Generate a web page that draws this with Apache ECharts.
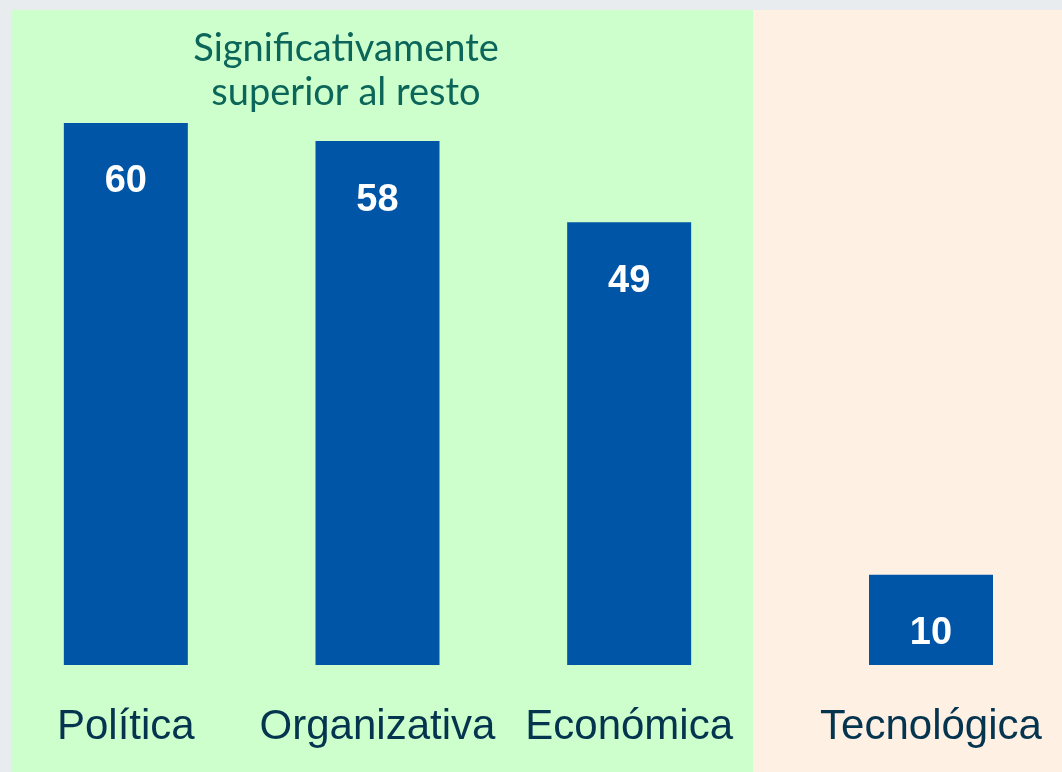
<!DOCTYPE html>
<html>
<head>
<meta charset="utf-8">
<script src="https://cdn.jsdelivr.net/npm/echarts@6/dist/echarts.min.js"></script>
<style>
  html, body { margin: 0; padding: 0; background: #e8ecee; }
  #main { width: 1062px; height: 772px; }
</style>
</head>
<body>
<div id="main"></div>
<script>
// categorias dentro de la zona verde (significativamente superior)
var catTop = ['Política', 'Organizativa', 'Económica'];
var valTop = [60, 58, 49];
// zona naranja
var catRest = ['Tecnológica'];
var valRest = [10];
var notaTexto = 'Significativamente\nsuperior al resto';

var chart = echarts.init(document.getElementById('main'));

var labelCat = {
	interval: 0,
	color: '#05344f',
	fontFamily: '"Liberation Sans", Arial, sans-serif',
	fontSize: 42,
	margin: 41
};
var barLabel = {
	show: true,
	position: 'insideTop',
	distance: 40,
	color: '#ffffff',
	fontFamily: '"Liberation Sans", Arial, sans-serif',
	fontWeight: 'bold',
	fontSize: 38
};

var option = {
	backgroundColor: '#e8ecee',
	animation: false,
	graphic: [
		{ type: 'rect', z: -10, shape: { x: 12, y: 10, width: 741, height: 762 }, style: { fill: '#ccffcc' } },
		{ type: 'rect', z: -10, shape: { x: 753, y: 10, width: 309, height: 762 }, style: { fill: '#fff0e4' } },
		{
			type: 'text', x: 346, y: 27, z: 10,
			style: {
				text: notaTexto,
				align: 'center',
				fill: '#0b6659',
				font: '38px Lato, "Open Sans", sans-serif',
				lineHeight: 44
			}
		}
	],
	grid: [
		{ left: 0, width: 755, top: 123, bottom: 107 },
		{ left: 800, width: 262, top: 123, bottom: 107 }
	],
	xAxis: [
		{ gridIndex: 0, type: 'category', data: catTop, axisLine: { show: false }, axisTick: { show: false }, axisLabel: labelCat },
		{ gridIndex: 1, type: 'category', data: catRest, axisLine: { show: false }, axisTick: { show: false }, axisLabel: labelCat }
	],
	yAxis: [
		{ gridIndex: 0, type: 'value', min: 0, max: 60, show: false },
		{ gridIndex: 1, type: 'value', min: 0, max: 60, show: false }
	],
	series: [
		{
			type: 'bar', xAxisIndex: 0, yAxisIndex: 0, data: valTop,
			barWidth: 124, itemStyle: { color: '#0055a6' }, label: barLabel
		},
		{
			type: 'bar', xAxisIndex: 1, yAxisIndex: 1, data: valRest,
			barWidth: 124, itemStyle: { color: '#0055a6' }, label: barLabel
		}
	]
};

chart.setOption(option);
</script>
</body>
</html>
